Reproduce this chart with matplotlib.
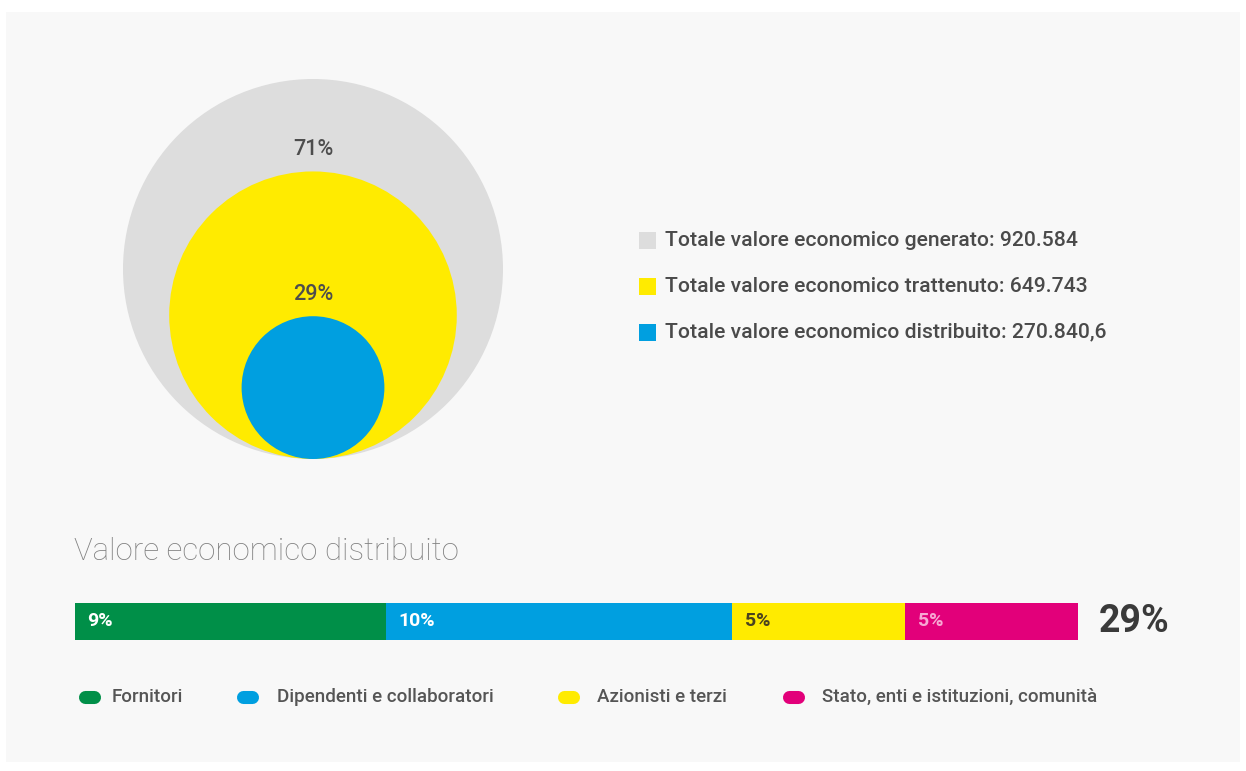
import matplotlib
matplotlib.use("Agg")
import matplotlib.pyplot as plt
from matplotlib.patches import Circle, Rectangle

plt.rcParams['font.family'] = ['Roboto', 'DejaVu Sans']

# Totals (thousands of euro)
circle_labels = ["Totale valore economico generato: 920.584",
                 "Totale valore economico trattenuto: 649.743",
                 "Totale valore economico distribuito: 270.840,6"]
circle_values = [920.584, 649.743, 270.8406]
circle_colors = ["#dddddd", "#ffeb00", "#009fe0"]

# Distributed value breakdown (% of generated value)
dist_labels = ["Fornitori", "Dipendenti e collaboratori",
               "Azionisti e terzi", "Stato, enti e istituzioni, comunità"]
dist_values = [9, 10, 5, 5]
dist_colors = ["#008f48", "#009fe0", "#ffeb00", "#e2007a"]
dist_text_colors = ["white", "white", "#4a4220", "#f7a8d3"]

W, H = 1246, 771
fig = plt.figure(figsize=(W / 100, H / 100), dpi=100, facecolor="white")

# overlay axes in pixel units (y downwards)
ax = fig.add_axes([0, 0, 1, 1])
ax.set_xlim(0, W)
ax.set_ylim(H, 0)
ax.set_aspect("equal")
ax.axis("off")
ax.add_patch(Rectangle((6, 12), 1234, 750, facecolor="#f8f8f8", edgecolor="none", zorder=0))

# nested circles, all tangent at the bottom
cx, base, r_max = 313, 459, 190
total = circle_values[0]
radii = [r_max * (v / total) ** 0.8 for v in circle_values]
for r, c in zip(radii, circle_colors):
    ax.add_patch(Circle((cx, base - r), r, facecolor=c, edgecolor="none", zorder=1))

for r, v in zip(radii[1:], circle_values[1:]):
    pct = round(v / total * 100)
    ax.text(cx, base - 2 * r - 22, f"{pct}%", ha="center", va="center",
            fontsize=15.5, fontweight="medium", color="#4d4d4d", zorder=2)

# legend for the circles
for i, (lab, c) in enumerate(zip(circle_labels, circle_colors)):
    y = 240 + i * 46
    ax.add_patch(Rectangle((639, y - 8), 17, 17, facecolor=c, edgecolor="none"))
    ax.text(665, y, lab, ha="left", va="center", fontsize=15.2,
            fontweight="medium", color="#4a4a4a")

ax.text(74, 552, "Valore economico distribuito", ha="left", va="center",
        fontsize=22.5, fontweight="light", color="#808080")

# stacked bar
bar_ax = fig.add_axes([75 / W, (H - 640) / H, 1003 / W, 37 / H])
bar_ax.set_xlim(0, sum(dist_values))
bar_ax.set_ylim(-0.5, 0.5)
bar_ax.axis("off")
left = 0
for v, c, tc in zip(dist_values, dist_colors, dist_text_colors):
    bar_ax.barh(0, v, left=left, height=1, color=c, edgecolor="none")
    bar_ax.annotate(f"{v}%", (left, 0), xytext=(9, 0), textcoords="offset points",
                    ha="left", va="center", fontsize=14, fontweight="bold", color=tc)
    left += v

ax.text(1099, 622, f"{sum(dist_values)}%", ha="left", va="center",
        fontsize=27, fontweight="bold", color="#3a3a3a")

# legend for the bar: pill-shaped swatches (thick line with round caps)
pill_x = [78, 236, 557, 782]
text_x = [112, 277, 597, 822]
for px, tx, lab, c in zip(pill_x, text_x, dist_labels, dist_colors):
    ax.plot([px + 6.5, px + 16], [697, 697], color=c, lw=9.4,
            solid_capstyle="round")
    ax.text(tx, 697, lab, ha="left", va="center", fontsize=13.5,
            fontweight="medium", color="#555555")

fig.savefig("out.png", dpi=100, facecolor="white")
